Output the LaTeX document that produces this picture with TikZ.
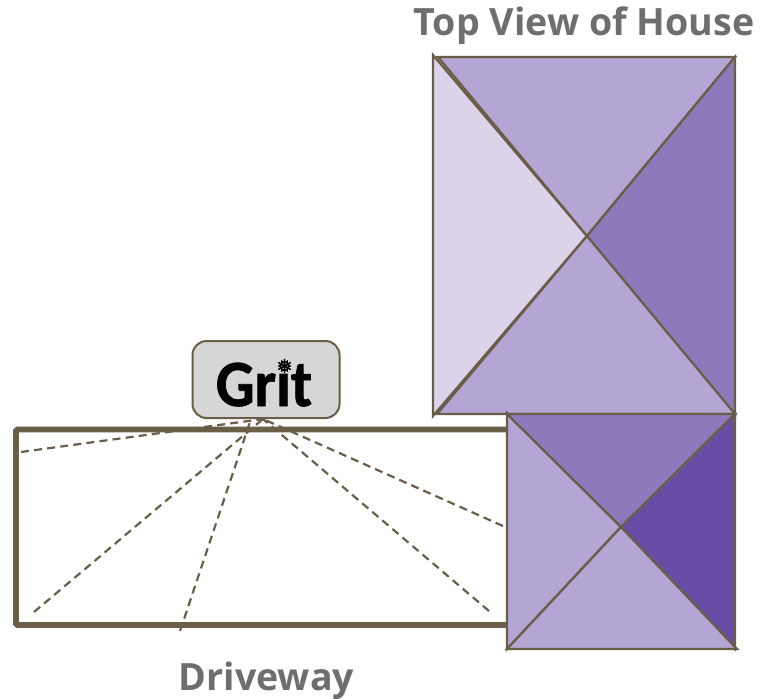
\documentclass[tikz,border=0pt]{standalone}
\usepackage{fontspec}
\setmainfont{Open Sans}
\newfontfamily\gritfont[FakeBold=1.2]{Carlito}
\newfontfamily\flakefont[FakeBold=1.5]{DejaVu Sans}
\definecolor{myBrown}{HTML}{6B5E48}
\definecolor{myGray}{HTML}{6D6E70}
\definecolor{myBox}{HTML}{D6D6D6}
\definecolor{myPale}{HTML}{DBD3EA}
\definecolor{myLight}{HTML}{B3A6D4}
\definecolor{myMid}{HTML}{8C7ABD}
\definecolor{myDark}{HTML}{674DA5}
\begin{document}
\begin{tikzpicture}
[
x=1pt,y=-1pt,
roof/.style={draw=myBrown,line width=2.3pt,line join=miter},
drive/.style={draw=myBrown,line width=5.8pt,rounded corners=1.5pt},
sight/.style={draw=myBrown,line width=2.2pt,dash pattern=on 8pt off 5.2pt},
caption/.style={font=\bfseries\fontsize{37.6}{37.6}\selectfont,text=myGray,inner sep=0pt,anchor=base},
gritbox/.style={draw=myBrown,line width=2pt,fill=myBox,rounded corners=14pt,minimum width=147pt,minimum height=77pt,inner sep=0pt},
]
\useasboundingbox (0,0) rectangle (761,699);

% Coordinates
\coordinate (hub) at (263,419);
\coordinate (end1) at (21,452);
\coordinate (end2) at (34,612);
\coordinate (end3) at (180,631);
\coordinate (end4) at (489,611);
\coordinate (end5) at (503,526);
\coordinate (hub3) at (251,419);
\coordinate (houseC) at (587,236);
\coordinate (porchC) at (621,527);

% Driveway
\draw[drive] (16,429.5) rectangle (520,625);

% House
\draw[roof,fill=myPale] (433,55) -- (433,416) -- (houseC) -- cycle;
\draw[roof,fill=myLight] (438,57) -- (735,57) -- (houseC) -- cycle;
\draw[roof,fill=myMid] (735,57) -- (735,415) -- (houseC) -- cycle;
\draw[roof,fill=myLight] (437,414) -- (735,414) -- (houseC) -- cycle;

% Porch
\draw[roof,fill=myLight] (507,413) -- (507,649) -- (porchC) -- cycle;
\draw[roof,fill=myMid] (507,414) -- (735,414) -- (porchC) -- cycle;
\draw[roof,fill=myDark] (735,414) -- (735,649) -- (porchC) -- cycle;
\draw[roof,fill=myLight] (507,649) -- (737,649) -- (porchC) -- cycle;

% Sign
\node[gritbox] (grit) at (266,379.5) {};
\node[font=\gritfont\bfseries\fontsize{66}{66}\selectfont,inner sep=0pt,anchor=base,xscale=.92] (gritword) at (264,406) {Grıt};
\node[font=\flakefont\fontsize{19}{19}\selectfont,inner sep=0pt] (flake) at (284.5,366) {❅};

% Sight lines
\draw[sight] (end1) -- (hub);
\draw[sight] (end2) -- (hub);
\draw[sight] (end3) -- (hub3);
\draw[sight] (end4) -- (hub);
\draw[sight] (end5) -- (hub);

% Labels
\node[caption] (title) at (584,35) {Top View of House};
\node[caption] (driveway) at (266.5,690) {Driveway};

\end{tikzpicture}
\end{document}
